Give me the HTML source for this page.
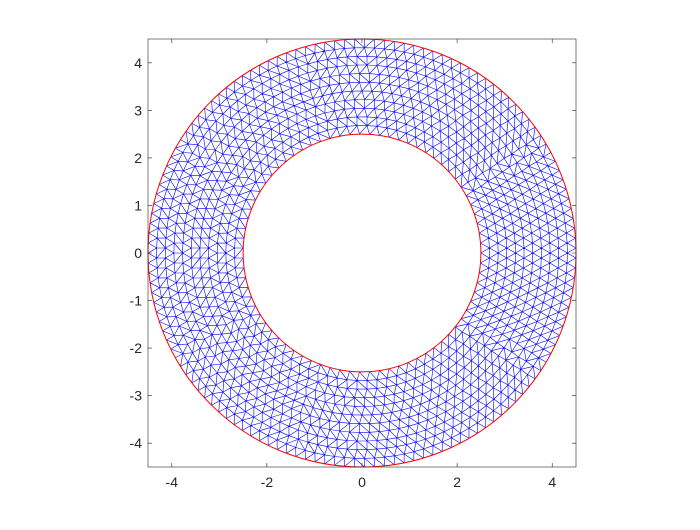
<!DOCTYPE html>
<html><head><meta charset="utf-8"><style>
html,body{margin:0;padding:0;background:#fff;}
svg text{font-family:"Liberation Sans",Arial,sans-serif;font-size:14px;fill:#262626;}
</style></head><body>
<svg id="chart" width="700" height="525" viewBox="0 0 700 525" xmlns="http://www.w3.org/2000/svg">
<rect x="0" y="0" width="700" height="525" fill="#fff"/>
<g id="mesh"></g>
<g id="bounds"></g>
<g id="axes"></g>
</svg>
<script>
const xTicks = [-4, -2, 0, 2, 4];
const yTicks = [-4, -3, -2, -1, 0, 1, 2, 3, 4];
const xTickLabels = ["-4", "-2", "0", "2", "4"];
const yTickLabels = ["-4", "-3", "-2", "-1", "0", "1", "2", "3", "4"];
const innerRadius = [2.5];
const outerRadius = [4.5];
const meshSize = [0.21];
const xDomain = [-4.5, 4.5];
const yDomain = [-4.5, 4.5];

const NS = "http://www.w3.org/2000/svg";
const L = 148, R = 576, T = 39, B = 467;
const sx = v => L + (v - xDomain[0]) / (xDomain[1] - xDomain[0]) * (R - L);
const sy = v => B - (v - yDomain[0]) / (yDomain[1] - yDomain[0]) * (B - T);
const scaleR = (R - L) / (xDomain[1] - xDomain[0]);

const r0 = innerRadius[0], r1 = outerRadius[0], h = meshSize[0];
const nr = Math.round((r1 - r0) / (h * 0.866));
const rings = [];
for (let k = 0; k <= nr; k++) {
  const r = r0 + (r1 - r0) * k / nr;
  const n = Math.round(2 * Math.PI * r / h);
  const off = (k % 2) * 0.5 / n * 2 * Math.PI;
  const pts = [];
  for (let i = 0; i < n; i++) { const a = off + i / n * 2 * Math.PI; pts.push([r * Math.cos(a), r * Math.sin(a), a]); }
  rings.push(pts);
}
let d = "";
const seg = (p, q) => { d += "M" + sx(p[0]).toFixed(1) + " " + sy(p[1]).toFixed(1) + "L" + sx(q[0]).toFixed(1) + " " + sy(q[1]).toFixed(1); };
const ang = (P, i) => P[i % P.length][2] + Math.floor(i / P.length) * 2 * Math.PI;
for (let k = 0; k <= nr; k++) {
  const P = rings[k];
  if (k > 0 && k < nr) for (let i = 0; i < P.length; i++) seg(P[i], P[(i + 1) % P.length]);
  if (k < nr) {
    const Q = rings[k + 1];
    let i = 0, j = 0;
    seg(P[0], Q[0]);
    while (i < P.length || j < Q.length) {
      const ai = i < P.length ? ang(P, i + 1) : 1e9;
      const aj = j < Q.length ? ang(Q, j + 1) : 1e9;
      if (ai <= aj) i++; else j++;
      seg(P[i % P.length], Q[j % Q.length]);
    }
  }
}
const mp = document.createElementNS(NS, "path");
mp.setAttribute("d", d);
mp.setAttribute("stroke", "#0000ff");
mp.setAttribute("stroke-width", "0.6");
mp.setAttribute("fill", "none");


document.getElementById("mesh").appendChild(mp);

[r0, r1].forEach((r, idx) => {
  const c = document.createElementNS(NS, "circle");
  c.setAttribute("cx", sx(0)); c.setAttribute("cy", sy(0));
  c.setAttribute("r", r * scaleR);
  c.setAttribute("fill", "none"); c.setAttribute("stroke", "#ff0000"); c.setAttribute("stroke-width", "1");
  
  
  document.getElementById("bounds").appendChild(c);
});

const ax = document.getElementById("axes");
const box = document.createElementNS(NS, "rect");
box.setAttribute("x", L); box.setAttribute("y", T); box.setAttribute("width", R - L); box.setAttribute("height", B - T);
box.setAttribute("fill", "none"); box.setAttribute("stroke", "#262626"); box.setAttribute("stroke-width", "0.6");


ax.appendChild(box);
let td = "";
xTicks.forEach((v, i) => {
  const x = sx(v);
  td += `M${x} ${B}V${B-4}M${x} ${T}V${T+4}`;
  const t = document.createElementNS(NS, "text");
  t.setAttribute("x", x); t.setAttribute("y", B + 20); t.setAttribute("text-anchor", "middle");
  t.textContent = xTickLabels[i];
  
  
  ax.appendChild(t);
});
yTicks.forEach((v, i) => {
  const y = sy(v);
  td += `M${L} ${y}H${L+4}M${R} ${y}H${R-4}`;
  const t = document.createElementNS(NS, "text");
  t.setAttribute("x", L - 6); t.setAttribute("y", y + 5); t.setAttribute("text-anchor", "end");
  t.textContent = yTickLabels[i];
  
  
  ax.appendChild(t);
});
const tp = document.createElementNS(NS, "path");
tp.setAttribute("d", td); tp.setAttribute("stroke", "#262626"); tp.setAttribute("stroke-width", "0.6");


ax.appendChild(tp);
</script>
</body></html>
